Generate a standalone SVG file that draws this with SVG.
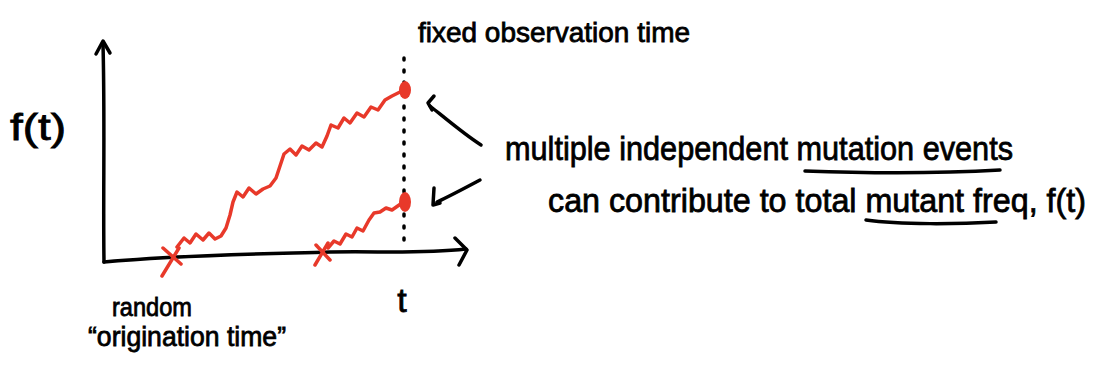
<svg xmlns="http://www.w3.org/2000/svg" width="1104" height="368" viewBox="0 0 1104 368">
<style>
.ink{fill:none;stroke:#000;stroke-width:3.5;stroke-linecap:round;stroke-linejoin:round}
.red{fill:none;stroke:#e8392a;stroke-width:3.5;stroke-linecap:round;stroke-linejoin:round}
.dot{fill:#e8392a}
.t{font-family:"Liberation Sans",Arial,sans-serif;fill:#000;stroke:#000;stroke-width:0.8}
</style>
<rect width="1104" height="368" fill="#fff"/>
<g id="axes">
<path class="ink" d="M104,262 C103,200 105,120 103,44"/>
<path class="ink" d="M96,54 L103,41 L110,53"/>
<path class="ink" d="M104,262 C180,255 260,254 330,252 C380,251 420,254 466,249"/>
<path class="ink" d="M455,238 L467,250 L459,265"/>
<path d="M404,58 L404,250" fill="none" stroke="#000" stroke-width="3.5" stroke-linecap="round" stroke-dasharray="2 10"/>
</g>
<g id="trajectory1">
<polyline class="red" points="177,247 184,238 190,243 196,234 203,240 209,233 215,239 221,236 226,228 230,215 233,202 237,192 243,197 249,188 256,194 263,189 270,186 276,178 280,166 284,154 290,149 296,155 302,146 309,150 316,143 322,147 327,136 331,125 338,128 344,118 350,123 357,113 364,117 371,107 378,110 385,100 392,96 402,91"/>
<path class="red" d="M162,276 L179,248 M163,248 L181,264"/>
<ellipse class="dot" cx="405" cy="90" rx="6" ry="9"/>
</g>
<g id="trajectory2">
<polyline class="red" points="328,248 334,241 340,244 346,234 352,237 357,228 363,231 369,220 374,213 380,212 386,208 392,210 402,203"/>
<path class="red" d="M315,265 L328,243 M316,245 L330,260"/>
<ellipse class="dot" cx="405" cy="202" rx="6" ry="10"/>
</g>
<g id="connectors">
<path class="ink" d="M481,145 C465,135 445,118 430,106"/>
<path class="ink" d="M434,96 L428,103 L432,110"/>
<path class="ink" d="M480,180 C465,188 450,196 437,202"/>
<path class="ink" d="M434,188 L433,205 L440,203"/>
</g>
<g id="labels">
<text class="t" x="10" y="140" font-size="36" textLength="56" lengthAdjust="spacingAndGlyphs">f(t)</text>
<text class="t" x="418" y="42" font-size="28" textLength="272" lengthAdjust="spacingAndGlyphs">fixed observation time</text>
<text class="t" x="505" y="160" font-size="34" textLength="508" lengthAdjust="spacingAndGlyphs">multiple independent mutation events</text>
<path class="ink" d="M805,171 C860,173 930,174 1000,170"/>
<text class="t" x="548" y="212" font-size="33" textLength="538" lengthAdjust="spacingAndGlyphs">can contribute to total mutant freq, f(t)</text>
<path class="ink" d="M866,220 C900,225 960,224 996,222"/>
<text class="t" x="402" y="312" font-size="34" text-anchor="middle">t</text>
<text class="t" x="112" y="316" font-size="26" textLength="80" lengthAdjust="spacingAndGlyphs">random</text>
<text class="t" x="88" y="346" font-size="28" textLength="198" lengthAdjust="spacingAndGlyphs">“origination time”</text>
</g>
</svg>
